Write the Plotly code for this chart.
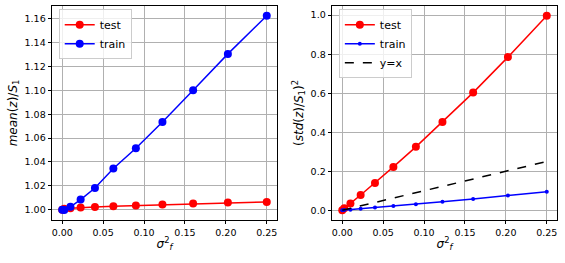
import plotly.graph_objects as go

sigma_f2 = [0.0, 0.0025, 0.01, 0.0225, 0.04, 0.0625, 0.09, 0.1225, 0.16, 0.2025, 0.25]

mean_test = [1.0, 1.0008, 1.0012, 1.0018, 1.0022, 1.0030, 1.0035, 1.0043, 1.0052, 1.0060, 1.0065]
mean_train = [1.0, 0.9998, 1.0025, 1.0085, 1.0182, 1.0345, 1.0515, 1.0735, 1.1000, 1.1305, 1.1625]

var_test = [0.0, 0.010, 0.035, 0.078, 0.140, 0.222, 0.325, 0.452, 0.603, 0.785, 0.997]
var_train = [0.0, 0.0008, 0.003, 0.008, 0.014, 0.022, 0.031, 0.043, 0.058, 0.076, 0.095]
yx = sigma_f2

xticks = [0.0, 0.05, 0.10, 0.15, 0.20, 0.25]
xticktext = ["0.00", "0.05", "0.10", "0.15", "0.20", "0.25"]
y1ticks = [1.00, 1.02, 1.04, 1.06, 1.08, 1.10, 1.12, 1.14, 1.16]
y1ticktext = ["1.00", "1.02", "1.04", "1.06", "1.08", "1.10", "1.12", "1.14", "1.16"]
y2ticks = [0.0, 0.2, 0.4, 0.6, 0.8, 1.0]
y2ticktext = ["0.0", "0.2", "0.4", "0.6", "0.8", "1.0"]

RED = "#ff0000"
BLUE = "#0000ff"
FONT = "DejaVu Sans"

fig = go.Figure()

fig.add_trace(go.Scatter(x=sigma_f2, y=mean_test, name="test", mode="lines+markers",
                         line=dict(color=RED, width=1.5), marker=dict(color=RED, size=8),
                         xaxis="x", yaxis="y", legend="legend"))
fig.add_trace(go.Scatter(x=sigma_f2, y=mean_train, name="train", mode="lines+markers",
                         line=dict(color=BLUE, width=1.5), marker=dict(color=BLUE, size=8),
                         xaxis="x", yaxis="y", legend="legend"))

fig.add_trace(go.Scatter(x=sigma_f2, y=var_test, name="test", mode="lines+markers",
                         line=dict(color=RED, width=1.5), marker=dict(color=RED, size=8),
                         xaxis="x2", yaxis="y2", legend="legend2"))
fig.add_trace(go.Scatter(x=sigma_f2, y=var_train, name="train", mode="lines+markers",
                         line=dict(color=BLUE, width=1.5), marker=dict(color=BLUE, size=4),
                         xaxis="x2", yaxis="y2", legend="legend2"))
fig.add_trace(go.Scatter(x=sigma_f2, y=yx, name="y=x", mode="lines",
                         line=dict(color="black", width=1.5, dash="dash"),
                         xaxis="x2", yaxis="y2", legend="legend2"))

axis_common = dict(showline=True, linecolor="black", linewidth=0.8, mirror=True,
                   showgrid=True, gridcolor="#b0b0b0", gridwidth=0.8,
                   ticks="outside", ticklen=3.5, tickwidth=0.8, tickcolor="black",
                   zeroline=False, automargin=False, ticklabeloverflow="allow",
                   tickfont=dict(family=FONT, size=9.5, color="black"))

title_font = dict(family=FONT, size=12, color="black")
legend_common = dict(xanchor="left", yanchor="top",
                     bgcolor="rgba(255,255,255,0.8)", bordercolor="#cccccc", borderwidth=1,
                     font=dict(family=FONT, size=11, color="black"),
                     tracegroupgap=0, itemwidth=30)

fig.update_layout(
    width=565, height=263,
    margin=dict(l=52, r=8, t=6, b=43),
    paper_bgcolor="white", plot_bgcolor="white",
    font=dict(family=FONT, size=10, color="black"),
    xaxis=dict(domain=[0.0, 0.4455], range=[-0.0125, 0.2625], anchor="y",
               tickvals=xticks, ticktext=xticktext,
               title=dict(text="<i>σ</i><sup>2</sup><sub><i>f</i></sub>", font=title_font, standoff=2),
               **axis_common),
    yaxis=dict(domain=[0.0, 1.0], range=[0.9914, 1.1706], anchor="x",
               tickvals=y1ticks, ticktext=y1ticktext,
               title=dict(text="<i>mean</i>(<i>z</i>)/<i>S</i><sub>1</sub>", font=title_font, standoff=4),
               **axis_common),
    xaxis2=dict(domain=[0.5545, 1.0], range=[-0.0125, 0.2625], anchor="y2",
                tickvals=xticks, ticktext=xticktext,
                title=dict(text="<i>σ</i><sup>2</sup><sub><i>f</i></sub>", font=title_font, standoff=2),
                **axis_common),
    yaxis2=dict(domain=[0.0, 1.0], range=[-0.05, 1.047], anchor="x2",
                tickvals=y2ticks, ticktext=y2ticktext,
                title=dict(text="(<i>std</i>(<i>z</i>)/<i>S</i><sub>1</sub>)<sup>2</sup>", font=title_font, standoff=4),
                **axis_common),
    legend=dict(x=0.0133, y=0.985, **legend_common),
    legend2=dict(x=0.568, y=0.985, **legend_common),
    showlegend=True,
)

fig.write_html(
    "out.html",
    config={"displayModeBar": False},
    post_script="document.documentElement.style.margin='0';document.body.style.margin='0';"
                "document.body.style.padding='0';document.body.style.overflow='hidden';",
)
